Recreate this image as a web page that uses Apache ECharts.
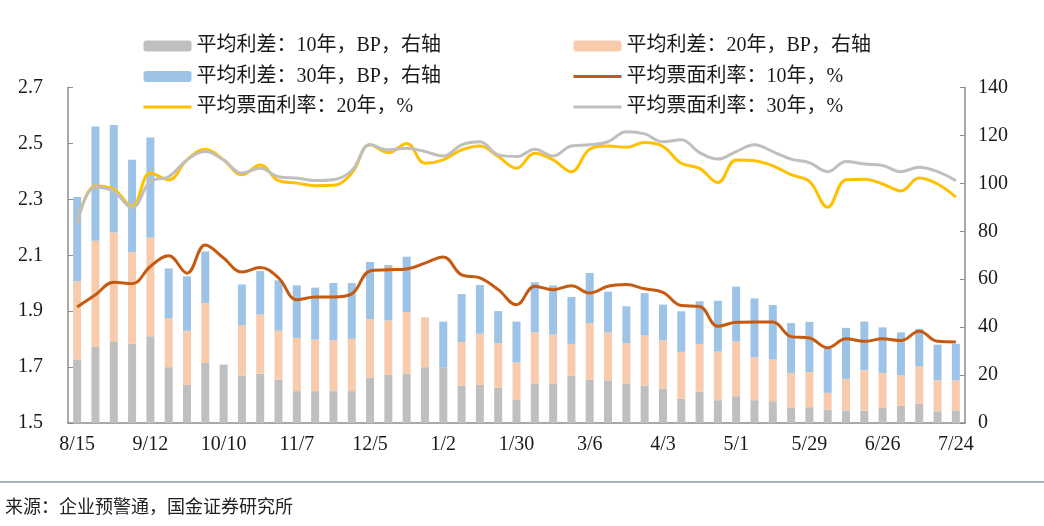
<!DOCTYPE html>
<html>
<head>
<meta charset="utf-8">
<script src="https://cdn.jsdelivr.net/npm/echarts@6/dist/echarts.min.js"></script>
<style>
  html, body { margin: 0; padding: 0; background: #fff; }
  #chart { width: 1044px; height: 526px; }
</style>
</head>
<body>
<div id="chart"></div>
<script>
// 周度日期
var dates = ['8/15','8/22','8/29','9/5','9/12','9/19','9/26','10/3','10/10','10/17','10/24','10/31',
  '11/7','11/14','11/21','11/28','12/5','12/12','12/19','12/26','1/2','1/9','1/16','1/23',
  '1/30','2/13','2/20','2/27','3/6','3/13','3/20','3/27','4/3','4/10','4/17','4/24',
  '5/1','5/8','5/15','5/22','5/29','6/5','6/12','6/19','6/26','7/3','7/10','7/17','7/24'];

// 平均利差（BP，右轴），堆积
var spread10 = [26.5,31.7,34.1,33.1,36.2,23.3,15.9,25.1,24.4,19.8,20.6,18.1,
  13.3,13.3,13.3,13.3,18.8,20.2,20.5,23.3,23.3,15.6,15.9,14.7,
  9.8,16.5,16.3,19.8,18.1,17.8,16.5,15.6,14.4,10.1,13.0,9.5,
  11.2,9.5,9.1,6.3,6.6,5.6,5.2,5.2,6.3,7.3,8.1,4.9,5.3];
var spread20 = [32.6,44.3,45.4,38.1,41.2,20.4,22.6,25.0,null,21.0,24.6,20.4,
  22.2,21.5,21.2,21.8,24.6,22.6,25.8,20.8,null,18.2,21.3,18.7,
  15.5,21.3,20.6,13.2,23.5,20.0,16.9,20.9,20.1,19.6,20.0,20.3,
  22.8,17.9,17.4,14.6,14.6,7.0,13.2,16.8,14.6,12.6,15.6,12.9,12.5];
var spread30 = [35.2,47.7,44.9,38.6,41.7,20.8,22.7,21.5,null,17.0,18.2,21.0,
  21.9,21.7,23.9,23.3,23.8,23.1,23.1,null,19.0,20.0,20.4,13.3,
  17.0,20.9,20.5,19.6,21.0,17.0,15.3,17.7,14.9,16.9,17.8,21.2,
  22.9,24.6,22.7,20.8,21.0,18.3,21.3,20.3,19.0,17.9,15.5,14.9,15.2];

// 平均票面利率（%，左轴）
var coupon10 = [1.915,1.959,2.003,1.998,2.06,2.098,2.036,2.137,2.09,2.04,2.056,2.019,
  1.941,1.951,1.951,1.962,2.044,2.048,2.051,2.072,2.094,2.03,2.019,1.977,
  1.923,1.989,1.977,1.991,1.965,1.989,1.995,1.98,1.967,1.92,1.917,1.846,
  1.86,1.861,1.861,1.809,1.804,1.769,1.801,1.792,1.801,1.795,1.828,1.792,1.79];
var coupon20 = [2.215,2.348,2.336,2.274,2.394,2.37,2.441,2.479,2.441,2.388,2.423,2.367,
  2.358,2.349,2.35,2.394,2.495,2.467,2.5,2.429,2.441,2.477,2.491,2.453,
  2.411,2.465,2.441,2.399,2.479,2.491,2.486,2.503,2.489,2.429,2.411,2.36,
  2.441,2.438,2.42,2.388,2.364,2.272,2.37,2.372,2.355,2.33,2.376,2.355,2.308];
var coupon30 = [2.215,2.343,2.328,2.27,2.364,2.381,2.441,2.471,2.441,2.394,2.411,2.381,
  2.376,2.367,2.37,2.403,2.495,2.477,2.483,2.471,2.455,2.495,2.506,2.459,
  2.453,2.479,2.455,2.491,2.495,2.506,2.542,2.534,2.506,2.513,2.467,2.444,
  2.471,2.495,2.471,2.444,2.431,2.399,2.435,2.426,2.421,2.399,2.415,2.399,2.367];

var names = ['平均利差：10年，BP，右轴', '平均利差：20年，BP，右轴', '平均利差：30年，BP，右轴',
  '平均票面利率：10年，%', '平均票面利率：20年，%', '平均票面利率：30年，%'];

var font = "'Liberation Serif', 'Noto Sans CJK SC', serif";
var axisColor = '#8c8c8c';

var chart = echarts.init(document.getElementById('chart'));

// 折线图例只画线，不画圆点
function lineItem(name) {
  return { name: name, itemStyle: { opacity: 0 }, lineStyle: { width: 3 } };
}

function legendCol(left, data) {
  return {
    orient: 'vertical', left: left, top: 31,
    itemWidth: 48, itemHeight: 11, itemGap: 10.5,
    data: data,
    textStyle: { fontFamily: font, fontSize: 20, color: '#1a1a1a', lineHeight: 20 }
  };
}

function barSeries(name, data, color) {
  return {
    name: name, type: 'bar', stack: 'spread', yAxisIndex: 1,
    barWidth: 8, data: data,
    itemStyle: { color: color }
  };
}

function lineSeries(name, data, color) {
  return {
    name: name, type: 'line', yAxisIndex: 0, data: data,
    smooth: 0.4, symbol: 'none',
    lineStyle: { color: color, width: 3 },
    itemStyle: { color: color }
  };
}

var option = {
  animation: false,
  backgroundColor: '#fff',
  legend: [
    legendCol(137, [names[0], names[2], lineItem(names[4])]),
    legendCol(567, [names[1], lineItem(names[3]), lineItem(names[5])])
  ],
  grid: { left: 68, right: 79, top: 87.5, bottom: 103 },
  xAxis: {
    type: 'category', data: dates, boundaryGap: true,
    axisLine: { lineStyle: { color: axisColor, width: 1.5 } },
    axisTick: { inside: true, interval: 3, length: 5, lineStyle: { color: axisColor } },
    axisLabel: { interval: 3, margin: 12, fontFamily: font, fontSize: 20, color: '#1a1a1a' }
  },
  yAxis: [
    {
      type: 'value', position: 'left', min: 1.5, max: 2.7, interval: 0.2,
      splitLine: { show: false },
      axisLine: { show: true, lineStyle: { color: axisColor, width: 1.5 } },
      axisTick: { show: true, inside: true, length: 5, lineStyle: { color: axisColor } },
      axisLabel: { margin: 25, fontFamily: font, fontSize: 20, color: '#1a1a1a',
        formatter: function (v) { return v.toFixed(1); } }
    },
    {
      type: 'value', position: 'right', min: 0, max: 140, interval: 20,
      splitLine: { show: false },
      axisLine: { show: true, lineStyle: { color: axisColor, width: 1.5 } },
      axisTick: { show: true, inside: true, length: 5, lineStyle: { color: axisColor } },
      axisLabel: { margin: 13, fontFamily: font, fontSize: 20, color: '#1a1a1a' }
    }
  ],
  series: [
    barSeries(names[0], spread10, '#bfbfbf'),
    barSeries(names[1], spread20, '#f8cbad'),
    barSeries(names[2], spread30, '#9dc3e6'),
    lineSeries(names[3], coupon10, '#c55a11'),
    lineSeries(names[4], coupon20, '#ffc000'),
    lineSeries(names[5], coupon30, '#bfbfbf')
  ],
  graphic: [
    { type: 'line', shape: { x1: 0, y1: 482, x2: 1044, y2: 482 },
      style: { stroke: '#4a6a8c', lineWidth: 1.2 } },
    { type: 'text', left: 5, top: 497,
      style: { text: '来源：企业预警通，国金证券研究所', font: "18px 'Noto Sans CJK SC'", fill: '#222' } }
  ]
};

chart.setOption(option);
</script>
</body>
</html>
